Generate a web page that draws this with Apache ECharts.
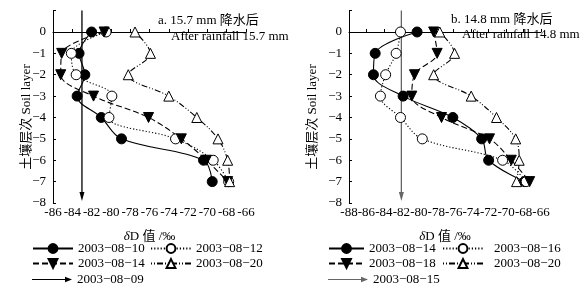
<!DOCTYPE html>
<html>
<head>
<meta charset="utf-8">
<script src="https://cdn.jsdelivr.net/npm/echarts@6/dist/echarts.min.js"></script>
<style>
html,body{margin:0;padding:0;background:#fff;}
#main{width:588px;height:292px;}
</style>
</head>
<body>
<div id="main"></div>
<script>
// 土壤层次
var layers = [0, -1, -2, -3, -4, -5, -6, -7];

// a. 15.7 mm 降水后
var aNames = ['2003−08−10', '2003−08−12', '2003−08−14', '2003−08−20', '2003−08−09'];
var a0810 = [-82.0, -83.3, -82.7, -83.5, -81.0, -78.9, -70.4, -69.5];
var a0812 = [-80.5, -84.1, -83.6, -79.9, -80.2, -73.3, -69.4, -67.8];
var a0814 = [-80.7, -85.1, -85.2, -81.8, -76.1, -72.7, -70.1, -67.9];
var a0820 = [-77.5, -75.9, -78.2, -74.0, -71.1, -68.9, -67.9, -67.7];
var aArrowX = -83;

// b. 14.8 mm 降水后
var bNames = ['2003−08−14 ', '2003−08−16', '2003−08−18', '2003−08−20 ', '2003−08−15'];
var b0814 = [-80.2, -85.0, -85.2, -81.8, -76.1, -72.8, -72.0, -67.9];
var b0816 = [-82.1, -82.6, -83.8, -84.4, -82.1, -79.6, -70.4, -67.7];
var b0818 = [-78.3, -77.9, -80.5, -80.8, -77.4, -71.9, -69.4, -67.3];
var b0820 = [-77.6, -75.9, -78.3, -74.0, -71.1, -68.9, -68.5, -68.8];
var bArrowX = -82;

var arrowY = [1, -7.7];

var serif = '"Liberation Serif","Noto Sans CJK SC",serif';

function pairs(xs){
	var r = [];
	for(var i = 0; i < xs.length; i++){
		r.push([xs[i], layers[i]]);
	}
	return r;
}

//线型
var styles = [
	{symbol:'circle', fill:'#000', type:'solid'},
	{symbol:'circle', fill:'#fff', type:[1.2,2]},
	{symbol:'triangle', fill:'#000', type:[6,3], rotate:180},
	{symbol:'triangle', fill:'#fff', type:[1,2,1,2,6,2]}
];

function mkSeries(name, xs, st, idx){
	return {
		name: name,
		type: 'line',
		xAxisIndex: idx,
		yAxisIndex: idx,
		data: pairs(xs),
		smooth: 0.35,
		symbol: st.symbol,
		symbolRotate: st.rotate || 0,
		symbolSize: 10,
		lineStyle: {color:'#000', width:1.1, type: st.type},
		itemStyle: {color: st.fill, borderColor:'#000', borderWidth:1},
		z: 3
	};
}

function mkArrow(name, x, idx, color){
	return {
		name: name,
		type: 'line',
		xAxisIndex: idx,
		yAxisIndex: idx,
		data: [
			{value:[x, arrowY[0]], symbol:'none'},
			{value:[x, arrowY[1]], symbol:'triangle', symbolRotate:180, symbolSize:[5,9]}
		],
		lineStyle: {color: color, width:1.3},
		itemStyle: {color: color},
		z: 2
	};
}

var series = [];
var aData = [a0810, a0812, a0814, a0820];
var bData = [b0814, b0816, b0818, b0820];
for(var i = 0; i < 4; i++){
	series.push(mkSeries(aNames[i], aData[i], styles[i], 0));
	series.push(mkSeries(bNames[i], bData[i], styles[i], 1));
}
series.push(mkArrow(aNames[4], aArrowX, 0, '#000'));
series.push(mkArrow(bNames[4], bArrowX, 1, '#666'));

var arrowIcon = 'path://M0,4.4 L33,4.4 L33,2.2 L40,5 L33,7.8 L33,5.6 L0,5.6 Z';

//图例 位置
var legendPos = [
	[aNames[0], 32, 242], [aNames[1], 150, 242],
	[aNames[2], 32, 257], [aNames[3], 150, 257],
	[aNames[4], 32, 273],
	[bNames[0], 328, 242], [bNames[1], 442, 242],
	[bNames[2], 328, 257], [bNames[3], 442, 257],
	[bNames[4], 328, 273]
];
var legends = [];
for(var j = 0; j < legendPos.length; j++){
	var isArrow = (legendPos[j][0] == aNames[4] || legendPos[j][0] == bNames[4]);
	legends.push({
		data: [isArrow ? {name: legendPos[j][0], icon: arrowIcon} : legendPos[j][0]],
		left: legendPos[j][1],
		top: legendPos[j][2],
		itemWidth: (j == 5 || j == 7) ? 35 : 40,
		itemHeight: 11,
		itemGap: 0,
		padding: 0,
		selectedMode: false,
		textStyle: {fontFamily: serif, fontSize: 13, color:'#000', padding: (j == 6 || j == 8) ? [0,0,0,6] : 0},
		formatter: function(n){ return n.trim(); }
	});
}

function xAxisOf(idx, min){
	return {
		type: 'value', gridIndex: idx, min: min, max: -66, interval: 2,
		axisLine: {lineStyle:{color:'#000', width:1}},
		axisTick: {inside:true, length:3, lineStyle:{color:'#000'}},
		splitLine: {show:false},
		axisLabel: {color:'#000', fontFamily: serif, fontSize: 13, margin: 3},
		name: '{i|δ}D 值 /‰',
		nameLocation: 'middle',
		nameGap: 27,
		nameTextStyle: {
			color:'#000', fontFamily: serif, fontSize: 13,
			rich: {i: {fontFamily: serif, fontStyle:'italic', fontSize: 13, color:'#000'}}
		}
	};
}

function yAxisOf(idx){
	return {
		type: 'value', gridIndex: idx, min: -8, max: 1, interval: 1,
		axisLine: {show:true, lineStyle:{color:'#000', width:1}},
		axisTick: {show:true, inside:true, length:3, lineStyle:{color:'#000'}},
		splitLine: {show:false},
		axisLabel: {
			color:'#000', fontFamily: serif, fontSize: 13, margin: 7,
			formatter: function(v){ return v > 0 ? '' : String(v).replace('-', '−'); }
		}
	};
}

var option = {
	backgroundColor: '#fff',
	animation: false,
	grid: [
		{left: 53, right: 342, top: 10.6, bottom: 89},
		{left: 349, right: 47, top: 10.6, bottom: 89}
	],
	xAxis: [xAxisOf(0, -86), xAxisOf(1, -88)],
	yAxis: [yAxisOf(0), yAxisOf(1)],
	legend: legends,
	graphic: [
		{type:'text', x:158, y:14, style:{text:'a. 15.7 mm 降水后', font:'13px ' + serif, fill:'#000'}},
		{type:'text', x:171, y:30, style:{text:'After rainfall 15.7 mm', font:'13px ' + serif, fill:'#000'}},
		{type:'text', x:451, y:13, style:{text:'b. 14.8 mm 降水后', font:'13px ' + serif, fill:'#000'}},
		{type:'text', x:462, y:28, style:{text:'After rainfall 14.8 mm', font:'13px ' + serif, fill:'#000'}},
		{type:'text', x:27, y:117, rotation: Math.PI/2, style:{text:'土壤层次 Soil layer', font:'13px ' + serif, fill:'#000', align:'center', verticalAlign:'middle'}},
		{type:'text', x:313, y:117, rotation: Math.PI/2, style:{text:'土壤层次 Soil layer', font:'13px ' + serif, fill:'#000', align:'center', verticalAlign:'middle'}}
	],
	series: series
};

var chart = echarts.init(document.getElementById('main'));
chart.setOption(option);
</script>
</body>
</html>
